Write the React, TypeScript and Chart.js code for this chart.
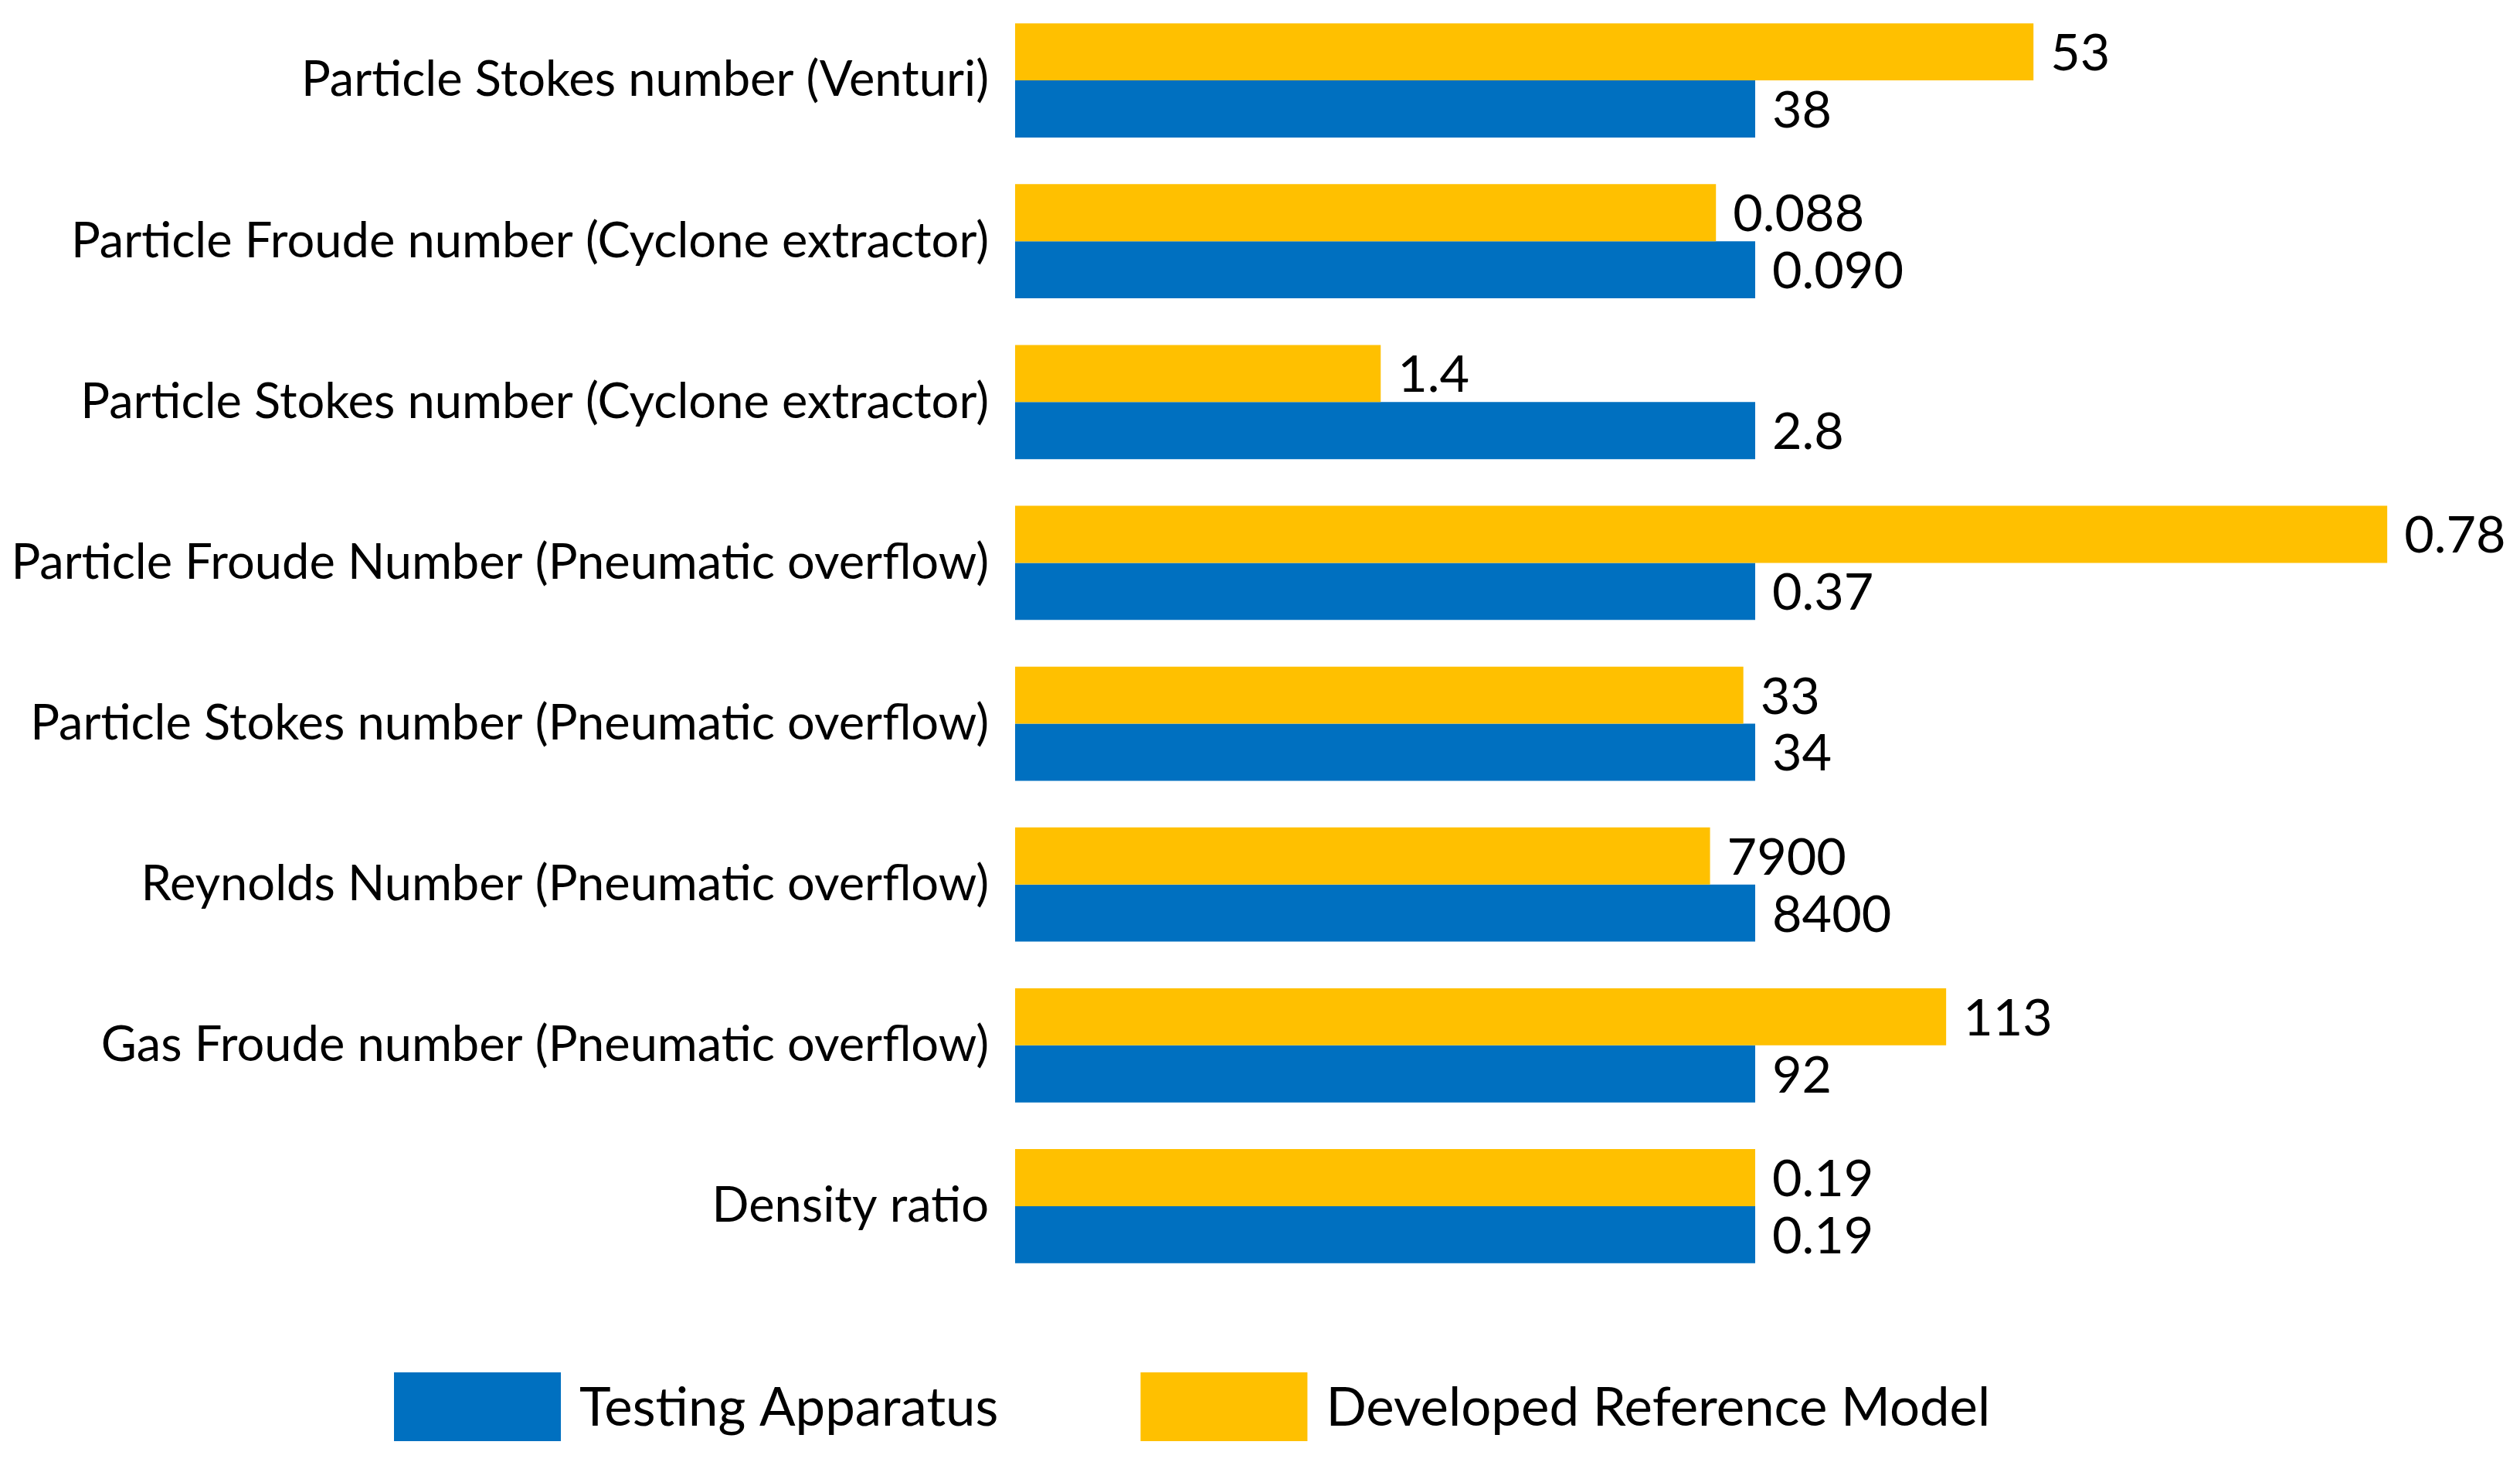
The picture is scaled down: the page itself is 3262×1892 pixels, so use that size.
import React, { useEffect, useRef } from "react";
import { Chart, registerables } from "chart.js";

Chart.register(...registerables);

const categories = [
  "Particle Stokes number (Venturi)",
  "Particle Froude number (Cyclone extractor)",
  "Particle Stokes number (Cyclone extractor)",
  "Particle Froude Number (Pneumatic overflow)",
  "Particle Stokes number (Pneumatic overflow)",
  "Reynolds Number (Pneumatic overflow)",
  "Gas Froude number (Pneumatic overflow)",
  "Density ratio",
];

// Bar lengths relative to the Testing Apparatus value
const testingRelative = [1, 1, 1, 1, 1, 1, 1, 1];
const referenceRelative = [1.376, 0.947, 0.494, 1.854, 0.984, 0.939, 1.258, 1.0];

// Printed values
const testingLabels = ["38", "0.090", "2.8", "0.37", "34", "8400", "92", "0.19"];
const referenceLabels = ["53", "0.088", "1.4", "0.78", "33", "7900", "113", "0.19"];

const seriesNames = ["Testing Apparatus", "Developed Reference Model"];
const BLUE = "#0070C0";
const YELLOW = "#FFC000";
const FONT = "Lato";

function fitSize(text: string, target: number): number {
  const c = document.createElement("canvas").getContext("2d")!;
  c.font = `100px ${FONT}`;
  return (100 * target) / c.measureText(text).width;
}

export default function App() {
  const ref = useRef<HTMLCanvasElement>(null);

  useEffect(() => {
    const catSize = fitSize(categories[3], 1266);
    const valSize = fitSize("0.090", 170);
    const legSize = fitSize("Developed Reference Model", 860);

    const valuePlugin = {
      id: "valueLabels",
      afterDatasetsDraw(chart: any) {
        const ctx = chart.ctx;
        ctx.save();
        ctx.font = `${valSize}px ${FONT}`;
        ctx.fillStyle = "#000";
        ctx.textAlign = "left";
        ctx.textBaseline = "alphabetic";
        chart.data.datasets.forEach((ds: any, di: number) => {
          const meta = chart.getDatasetMeta(di);
          meta.data.forEach((bar: any, i: number) => {
            ctx.fillText(ds.valueLabels[i], bar.x + 22, bar.y + valSize * 0.36);
          });
        });
        ctx.restore();
      },
    };

    const legendPlugin = {
      id: "customLegend",
      afterDraw(chart: any) {
        const ctx = chart.ctx;
        const items = [chart.data.datasets[1], chart.data.datasets[0]];
        let x = 510;
        const y = 1776;
        const w = 216;
        const h = 89;
        ctx.save();
        ctx.font = `${legSize}px ${FONT}`;
        ctx.textAlign = "left";
        ctx.textBaseline = "alphabetic";
        items.forEach((ds: any) => {
          ctx.fillStyle = ds.backgroundColor;
          ctx.fillRect(x, y, w, h);
          x += w + 24;
          ctx.fillStyle = "#000";
          ctx.fillText(ds.label, x, 1845);
          x += ctx.measureText(ds.label).width + 184;
        });
        ctx.restore();
      },
    };

    const chart = new Chart(ref.current!, {
      type: "bar",
      data: {
        labels: categories,
        datasets: [
          {
            label: seriesNames[1],
            data: referenceRelative,
            backgroundColor: YELLOW,
            categoryPercentage: 0.71,
            barPercentage: 1,
            valueLabels: referenceLabels,
          } as any,
          {
            label: seriesNames[0],
            data: testingRelative,
            backgroundColor: BLUE,
            categoryPercentage: 0.71,
            barPercentage: 1,
            valueLabels: testingLabels,
          } as any,
        ],
      },
      options: {
        indexAxis: "y",
        animation: false,
        responsive: false,
        maintainAspectRatio: false,
        devicePixelRatio: 1,
        layout: { padding: { top: 0, right: 32, bottom: 227, left: 0 } },
        scales: {
          x: { display: false, min: 0, max: 2 },
          y: {
            grid: { display: false, drawTicks: false },
            border: { display: false },
            ticks: {
              padding: 34,
              color: "#000",
              autoSkip: false,
              font: { family: FONT, size: catSize },
            },
            afterFit: (s: any) => {
              s.width = 1314;
              s.paddingTop = 0;
              s.paddingBottom = 0;
            },
          },
        },
        plugins: {
          legend: { display: false },
          tooltip: { enabled: false },
        },
      },
      plugins: [valuePlugin, legendPlugin],
    });
    return () => chart.destroy();
  }, []);

  return (
    <div
      style={{
        position: "fixed",
        left: 0,
        top: 0,
        width: 3262,
        height: 1892,
        background: "#fff",
      }}
    >
      <canvas ref={ref} width={3262} height={1892} style={{ width: 3262, height: 1892 }} />
    </div>
  );
}
